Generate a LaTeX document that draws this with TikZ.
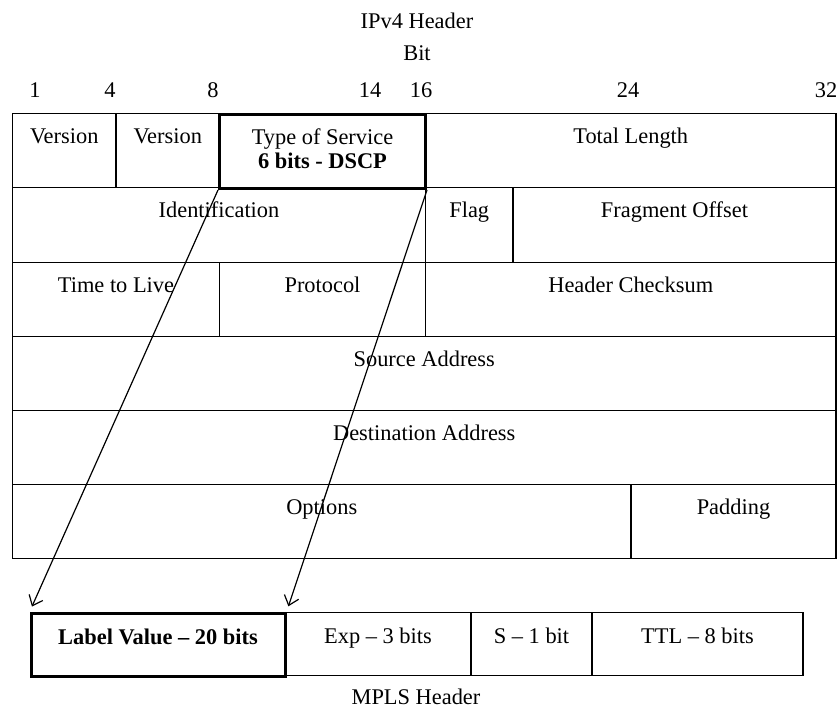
\documentclass[tikz,border=0pt]{standalone}
\usepackage{fontspec}
\setmainfont{Liberation Serif}
\usetikzlibrary{arrows.meta}
\begin{document}
\begin{tikzpicture}[x=1pt,y=-1pt,
  every node/.style={font=\fontsize{22.4}{24}\selectfont, inner sep=0pt},
  cell/.style={draw, line width=1.3pt, rectangle, anchor=north, inner sep=0pt,
               align=center, text height=30pt},
  boldcell/.style={cell, line width=3pt},
  row/.style={minimum height=#1pt, text depth=#1pt-30pt},
  caption/.style={anchor=base},
  arr/.style={line width=1.2pt, -{Straight Barb[length=9pt,width=15pt,line width=1.2pt]}, shorten >=6pt}]
\useasboundingbox (0,0) rectangle (839,710);

% titles and bit positions
\node[caption] (title) at (417,28) {IPv4 Header};
\node[caption] (bit) at (417,60) {Bit};
\node[caption] (b1)  at (35,97)  {1};
\node[caption] (b4)  at (110,97) {4};
\node[caption] (b8)  at (213,97) {8};
\node[caption] (b14) at (370,97) {14};
\node[caption] (b16) at (421,97) {16};
\node[caption] (b24) at (628,97) {24};
\node[caption] (b32) at (826,97) {32};

% IPv4 header, row 1
\node[cell,row=74.5,minimum width=103.5pt] (ver1) at (64.25,112.5) {Version};
\node[cell,row=74.5,minimum width=103.5pt] (ver2) at (167.75,112.5) {Version};
\node[cell,row=74.5,minimum width=410.5pt] (tlen) at (630.75,112.5) {Total Length};
% row 2
\node[cell,row=75,minimum width=413pt] (ident) at (219,187) {Identification};
\node[cell,row=75,minimum width=87.5pt] (flag) at (469.25,187) {Flag};
\node[cell,row=75,minimum width=323pt] (frag) at (674.5,187) {Fragment Offset};
% row 3
\node[cell,row=74,minimum width=207pt] (ttl) at (116,262) {Time to Live};
\node[cell,row=74,minimum width=206pt] (proto) at (322.5,262) {Protocol};
\node[cell,row=74,minimum width=410.5pt] (cksum) at (630.75,262) {Header Checksum};
% rows 4-6
\node[cell,row=74,minimum width=823.5pt] (src) at (424.25,336) {Source Address};
\node[cell,row=74,minimum width=823.5pt] (dst) at (424.25,410) {Destination Address};
\node[cell,row=74,minimum width=618.5pt] (opts) at (321.75,484) {Options};
\node[cell,row=74,minimum width=205pt] (pad) at (733.5,484) {Padding};
% highlighted type of service field (two lines: baseline is the last line)
\node[boldcell,minimum height=74.5pt,text height=54pt,text depth=20.5pt,minimum width=206pt] (tos) at (322.5,112.5)
  {Type of Service\\\textbf{6 bits - DSCP}};

% MPLS header
\node[cell,row=63,text height=31pt,text depth=32pt,minimum width=186pt] (exp) at (378,612) {Exp – 3 bits};
\node[cell,row=63,text height=31pt,text depth=32pt,minimum width=121pt] (sbit) at (531.5,612) {S – 1 bit};
\node[cell,row=63,text height=31pt,text depth=32pt,minimum width=211pt] (mttl) at (697.5,612) {TTL – 8 bits};
\node[boldcell,row=63,text height=31pt,text depth=32pt,minimum width=254pt] (lab) at (158,612) {\textbf{Label Value – 20 bits}};
\node[caption] (mpls) at (416,704) {MPLS Header};

% mapping of the DSCP bits into the label
\draw[arr] (tos.south west) -- (lab.north west);
\draw[arr] (tos.south east) -- (lab.north east);
\end{tikzpicture}
\end{document}
